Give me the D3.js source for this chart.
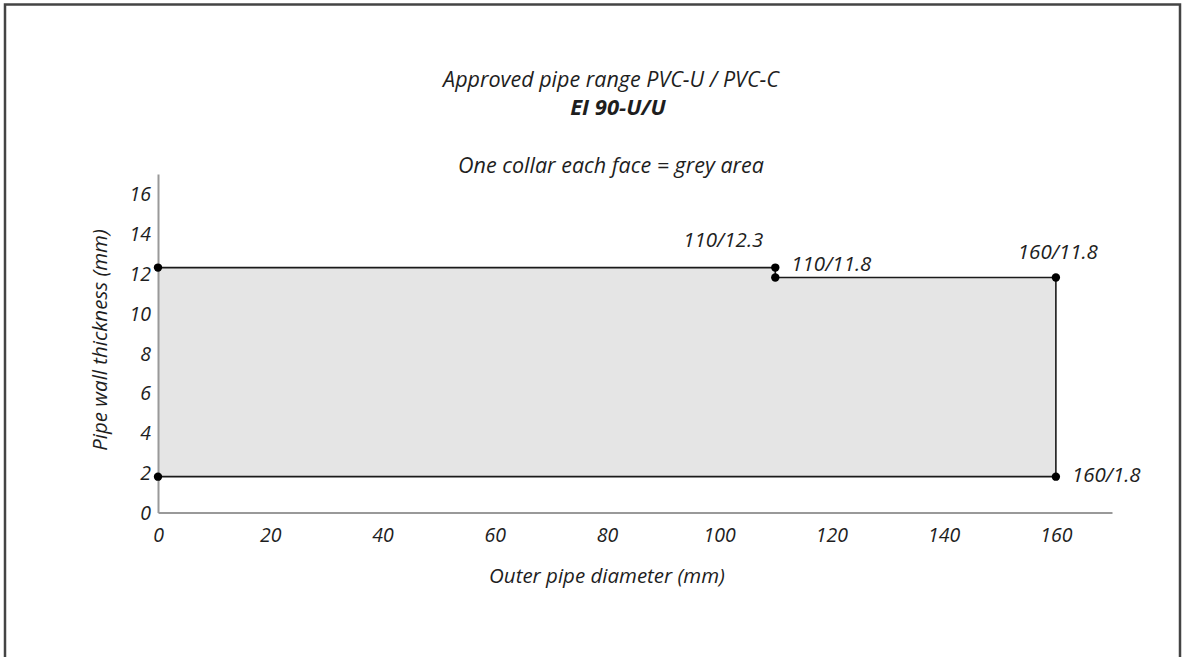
<!DOCTYPE html>
<html><head><meta charset="utf-8">
<script src="https://cdn.jsdelivr.net/npm/d3@7"></script>
<style>body{margin:0;background:#fff}svg text{font-family:"Open Sans",sans-serif;fill:#1e1e1e}</style>
</head><body>
<svg id="c" width="1182" height="657"></svg>
<script>
const xTicks = [0,20,40,60,80,100,120,140,160];
const yTicks = [0,2,4,6,8,10,12,14,16];
const boundaryX = [0,110,110,160,160,0];
const boundaryY = [12.3,12.3,11.8,11.8,1.8,1.8];
const pointX = [0,0,110,110,160,160];
const pointY = [12.3,1.8,12.3,11.8,11.8,1.8];
const pointLabels = ["","","110/12.3","110/11.8","160/11.8","160/1.8"];
const titleLines = ["Approved pipe range PVC-U / PVC-C","EI 90-U/U","One collar each face = grey area"];

const svg = d3.select("#c");
svg.append("path").attr("d","M5,657 V4.5 H1180 V657").attr("fill","none").attr("stroke","#444").attr("stroke-width",2.5);

const x = d3.scaleLinear().domain([0,170]).range([158,1112]);
const y = d3.scaleLinear().domain([0,17]).range([512.5,174]);

const pts = boundaryX.map((d,i)=>[d,boundaryY[i]]);
svg.append("path").attr("d", d3.line().x(d=>x(d[0])).y(d=>y(d[1]))(pts)+"Z")
  .attr("fill","#e5e5e5").attr("stroke","none");
svg.append("path").attr("d", d3.line().x(d=>x(d[0])).y(d=>y(d[1]))([[0,12.3],...pts]))
  .attr("fill","none").attr("stroke","#1a1a1a").attr("stroke-width",1.6);

const gx = svg.append("g").attr("transform",`translate(0,${y(0)})`).call(d3.axisBottom(x).tickValues(xTicks).tickSize(0).tickPadding(16));
const gy = svg.append("g").attr("transform",`translate(${x(0)},0)`).call(d3.axisLeft(y).tickValues(yTicks).tickSize(0).tickPadding(7));
[gx,gy].forEach(g=>{g.select(".domain").attr("stroke","#999").attr("stroke-width",2);
  g.selectAll("text").attr("font-size",19.5).attr("font-style","italic").attr("fill","#1a1a1a").attr("font-family",'"Open Sans",sans-serif');});
gy.selectAll("text").attr("dy","0.35em");

svg.append("text").attr("x",607).attr("y",583).attr("text-anchor","middle").attr("font-size",20.5).attr("font-style","italic").text("Outer pipe diameter (mm)");
svg.append("text").attr("transform","translate(107,340) rotate(-90)").attr("text-anchor","middle").attr("font-size",20.5).attr("font-style","italic").text("Pipe wall thickness (mm)");

svg.append("text").attr("x",611).attr("y",87).attr("text-anchor","middle").attr("font-size",21.5).attr("font-style","italic").text(titleLines[0]);
svg.append("text").attr("x",618).attr("y",115).attr("text-anchor","middle").attr("font-size",22).attr("font-style","italic").attr("font-weight","bold").text(titleLines[1]);
svg.append("text").attr("x",611).attr("y",173).attr("text-anchor","middle").attr("font-size",21.5).attr("font-style","italic").text(titleLines[2]);

svg.selectAll("circle.p").data(pointX).enter().append("circle")
  .attr("cx",(d,i)=>x(d)).attr("cy",(d,i)=>y(pointY[i])).attr("r",4.2).attr("fill","#000");

const labelOff = [[0,0],[0,0],[-52,-28],[16,-14],[2,-26],[16,-2]];
const labelAnchor = ["start","start","middle","start","middle","start"];
svg.selectAll("text.pl").data(pointLabels).enter().append("text")
  .attr("x",(d,i)=>x(pointX[i])+labelOff[i][0]).attr("y",(d,i)=>y(pointY[i])+labelOff[i][1])
  .attr("text-anchor",(d,i)=>labelAnchor[i]).attr("dy","0.35em")
  .attr("font-size",20.5).attr("font-style","italic").text(d=>d);
</script></body></html>
